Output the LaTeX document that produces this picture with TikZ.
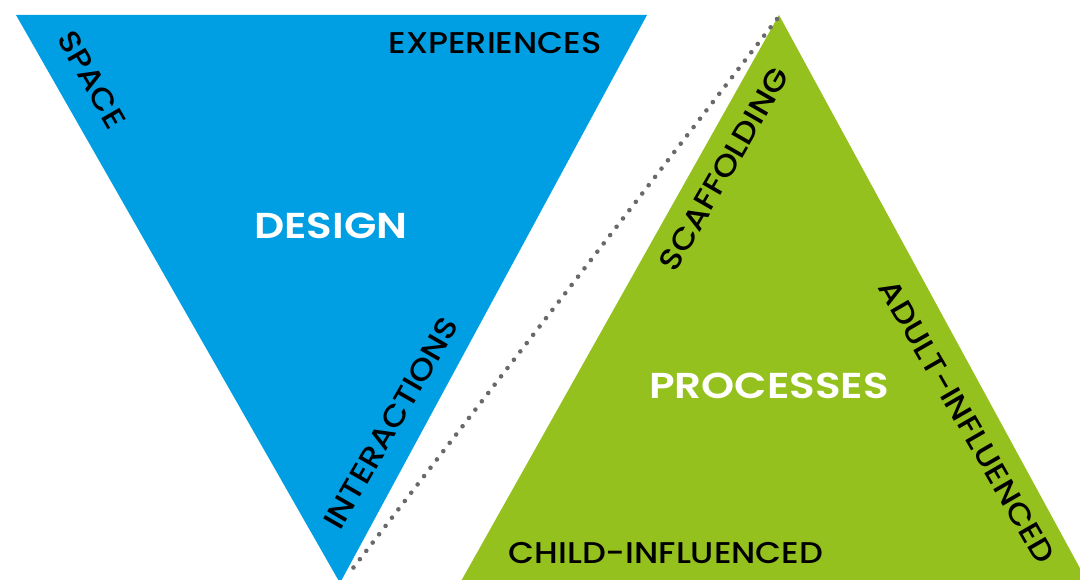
\documentclass[tikz,border=0pt]{standalone}
\usepackage{fontspec}
\setmainfont{Poppins}
\newfontfamily\labfont{Poppins Medium}
\newfontfamily\titlefont{Poppins SemiBold}
\newcommand{\wide}[1]{\scalebox{1.12}[1]{#1}}
\newcommand{\wider}[1]{\scalebox{1.17}[1]{#1}}
\begin{document}
\begin{tikzpicture}[x=1pt,y=-1pt,
  edgelabel/.style={inner sep=0pt, text=black, font=\labfont\fontsize{30}{30}\selectfont},
  titlelabel/.style={inner sep=0pt, text=white, font=\titlefont\fontsize{36}{36}\selectfont},
  dotline/.style={draw=dotgray, line width=4.6pt, line cap=round, dash pattern=on 0pt off 10.5pt}]
\definecolor{designblue}{RGB}{0,159,227}
\definecolor{processgreen}{RGB}{149,193,31}
\definecolor{dotgray}{RGB}{105,105,105}
\useasboundingbox (0,0) rectangle (1080,580);
\begin{scope}
\clip (0,0) rectangle (1080,580);
% inverted triangle: design
\coordinate (dTL) at (16,15);
\coordinate (dTR) at (647,15);
\coordinate (dB) at (340,583);
\fill[designblue] (dTL) -- (dTR) -- (dB) -- cycle;
% upright triangle: processes
\coordinate (pT) at (779,15);
\coordinate (pL) at (460,583);
\coordinate (pR) at (1088,583);
\fill[processgreen] (pT) -- (pL) -- (pR) -- cycle;
% dotted separator
\coordinate (sTop) at (777,19);
\coordinate (sBot) at (350,572);
\draw[dotline] (sTop) -- (sBot);
\end{scope}
% labels
\node[edgelabel] (experiences) at (495,43) {\wide{EXPERIENCES}};
\node[edgelabel, rotate=-60] (space) at (92,80) {\wide{SPACE}};
\node[edgelabel, rotate=60] (interactions) at (391,423) {\wide{INTERACTIONS}};
\node[titlelabel] (design) at (331,226) {\wider{DESIGN}};
\node[edgelabel, rotate=60] (scaffolding) at (724,169) {\wide{SCAFFOLDING}};
\node[edgelabel, rotate=-60] (adult) at (967,422) {\wide{ADULT-INFLUENCED}};
\node[edgelabel] (child) at (666,553) {\wide{CHILD-INFLUENCED}};
\node[titlelabel] (processes) at (769,386) {\wider{PROCESSES}};
\end{tikzpicture}
\end{document}
